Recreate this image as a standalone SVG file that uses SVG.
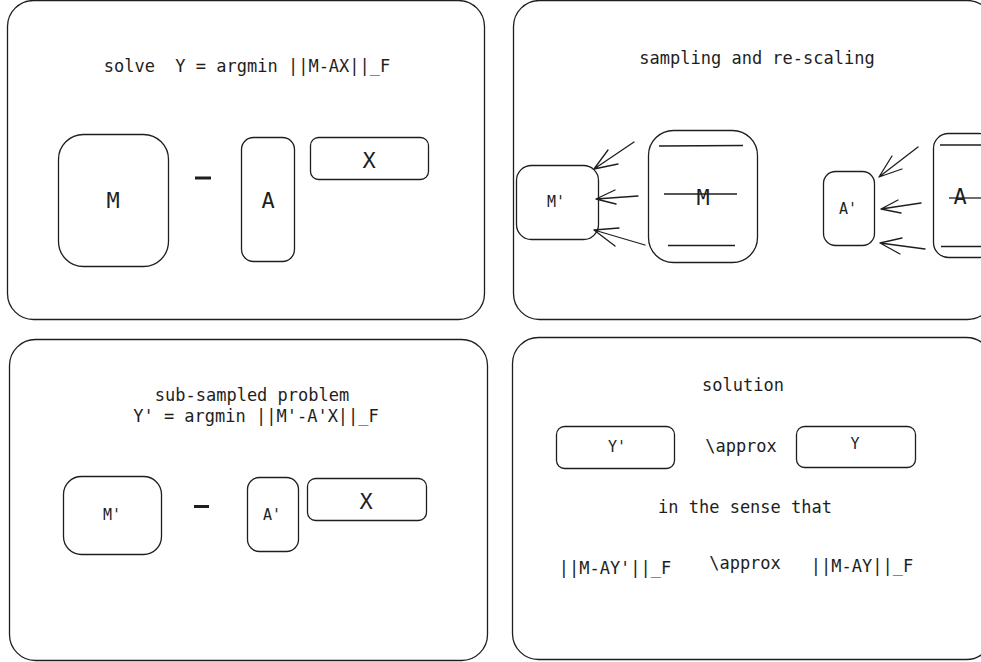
<svg xmlns="http://www.w3.org/2000/svg" width="981" height="662" viewBox="0 0 981 662">
<style>
.b{fill:none;stroke:#1e1e1e;stroke-width:1.3}
.t{font-family:"DejaVu Sans Mono","Liberation Mono",monospace;fill:#1e1e1e;text-anchor:middle;dominant-baseline:central;white-space:pre}
.s17{font-size:17px}
.s15{font-size:15px}
.s22{font-size:22px}
.ln{stroke:#1e1e1e;stroke-width:1.3;fill:none}
.ar{stroke:#1e1e1e;stroke-width:1.3;fill:none;stroke-linecap:round;stroke-linejoin:round}
</style>
<rect width="981" height="662" fill="#ffffff"/>
<g id="panel1">
<rect class="b" x="7.5" y="0.5" width="477" height="319" rx="26"/>
<text class="t s17" x="247" y="66" xml:space="preserve">solve  Y = argmin ||M-AX||_F</text>
</g>
<g id="M"><rect class="b" x="58.5" y="134.5" width="110" height="132" rx="25"/><text class="t s22" x="113" y="200">M</text></g>
<g id="minus1"><rect x="195" y="176.5" width="16" height="3" fill="#1e1e1e"/></g>
<g id="A"><rect class="b" x="241.5" y="137.5" width="53" height="124" rx="12"/><text class="t s22" x="268" y="200">A</text></g>
<g id="X"><rect class="b" x="310.5" y="137.5" width="118" height="42" rx="8"/><text class="t s22" x="369" y="160">X</text></g>

<g id="panel2">
<rect class="b" x="513.5" y="0.5" width="480" height="319" rx="26"/>
<text class="t s17" x="757" y="58">sampling and re-scaling</text>
</g>
<g id="Mp"><rect class="b" x="516.5" y="165.5" width="82" height="74" rx="15"/><text class="t s15" x="556" y="202">M'</text></g>
<g id="Mbig"><rect class="b" x="648.5" y="130.5" width="109" height="132" rx="25"/>
<line class="ln" x1="659" y1="146" x2="743" y2="145.5"/>
<line class="ln" x1="664" y1="194" x2="737" y2="194"/>
<line class="ln" x1="668" y1="245.5" x2="735" y2="245.5"/>
<text class="t s22" x="703" y="197">M</text></g>
<g id="Ap"><rect class="b" x="823.5" y="171.5" width="51" height="74" rx="12"/><text class="t s15" x="848" y="209">A'</text></g>
<g id="Abig"><rect class="b" x="933.5" y="133.5" width="60" height="124" rx="15"/>
<line class="ln" x1="940" y1="145" x2="981" y2="145"/>
<line class="ln" x1="949" y1="198" x2="981" y2="198"/>
<line class="ln" x1="941" y1="246.5" x2="981" y2="246.5"/>
<text class="t s22" x="960" y="196">A</text></g>
<g id="connectors">
<path class="ar" d="M634 142 L594 169 M608 150 L594 169 L618 164"/>
<path class="ar" d="M638 196 L596 199 M615 190 L596 199 L616 204"/>
<path class="ar" d="M645 245 L594 230 M619 228 L594 230 L615 246"/>
<path class="ar" d="M918 147 L879 177 M892 156 L879 177 L902 169"/>
<path class="ar" d="M921 203 L881 209 M898 200 L881 209 L901 213"/>
<path class="ar" d="M925 249 L880 243 M902 238 L880 243 L900 254"/>
</g>

<g id="panel3">
<rect class="b" x="9.5" y="339.5" width="478" height="321" rx="26"/>
<text class="t s17" x="252" y="395">sub-sampled problem</text>
<text class="t s17" x="256" y="416">Y' = argmin ||M'-A'X||_F</text>
</g>
<g id="Mp2"><rect class="b" x="63.5" y="476.5" width="98" height="78" rx="18"/><text class="t s15" x="112" y="515">M'</text></g>
<g id="minus2"><rect x="194" y="505" width="15" height="3" fill="#1e1e1e"/></g>
<g id="Ap2"><rect class="b" x="247.5" y="477.5" width="51" height="74" rx="12"/><text class="t s15" x="272" y="515">A'</text></g>
<g id="X2"><rect class="b" x="307.5" y="478.5" width="119" height="42" rx="8"/><text class="t s22" x="366" y="501">X</text></g>

<g id="panel4">
<rect class="b" x="512.5" y="337.5" width="480" height="322" rx="26"/>
<text class="t s17" x="743" y="385">solution</text>
<text class="t s17" x="741" y="446">\approx</text>
<text class="t s17" x="745" y="507">in the sense that</text>
<text class="t s17" x="615" y="568">||M-AY'||_F</text>
<text class="t s17" x="745" y="563">\approx</text>
<text class="t s17" x="862" y="566">||M-AY||_F</text>
</g>
<g id="Yp"><rect class="b" x="556.5" y="426.5" width="118" height="42" rx="8"/><text class="t s15" x="617" y="447">Y'</text></g>
<g id="Y"><rect class="b" x="796.5" y="426.5" width="119" height="41" rx="8"/><text class="t s15" x="855" y="444">Y</text></g>
</svg>
